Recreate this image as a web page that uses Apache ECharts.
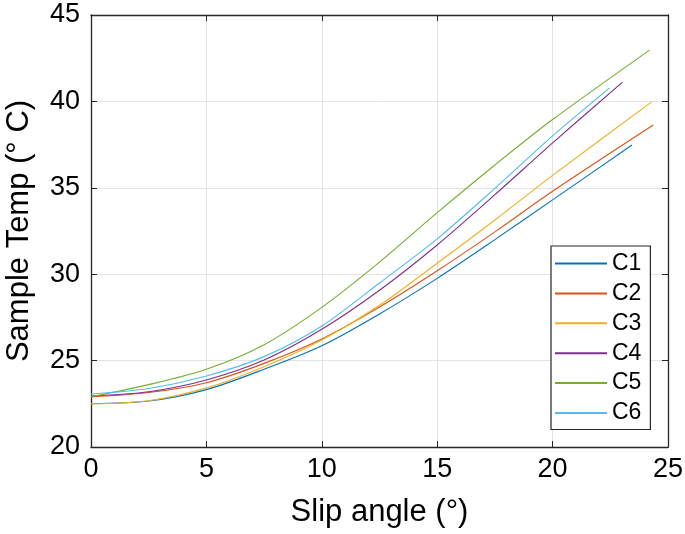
<!DOCTYPE html>
<html><head><meta charset="utf-8">
<script src="https://cdn.jsdelivr.net/npm/echarts@6/dist/echarts.min.js"></script>
<style>html,body{margin:0;padding:0;background:#fff}#c{width:685px;height:534px}</style>
</head><body><div id="c"></div>
<script>
const seriesNames = ['C1','C2','C3','C4','C5','C6'];
const colors = ['#0072BD','#D95319','#EDB120','#7E2F8E','#77AC30','#4DBEEE'];
const xTicks = [0,5,10,15,20,25];
const yTicks = [20,25,30,35,40,45];
const xBase = [0,2.5,5,7.5,10,12.5,15,17.5,20];
const xEnd = [23.44, 24.36, 24.29, 23.03, 24.2, 22.47];
const C1 = [22.5, 22.66, 23.32, 24.5, 25.86, 27.7, 29.76, 32.0, 34.3, 37.48];
const C2 = [22.9, 23.15, 23.72, 24.84, 26.25, 28.1, 30.2, 32.45, 34.8, 38.63];
const C3 = [22.5, 22.68, 23.42, 24.65, 26.19, 28.2, 30.63, 33.14, 35.72, 39.97];
const C4 = [22.95, 23.2, 23.88, 25.03, 26.81, 29.07, 31.69, 34.6, 37.6, 41.12];
const C5 = [22.91, 23.61, 24.5, 25.92, 28.08, 30.7, 33.56, 36.32, 38.95, 42.97];
const C6 = [23.07, 23.39, 24.11, 25.23, 27.0, 29.49, 32.04, 34.97, 38.0, 40.78];
const allY = [C1,C2,C3,C4,C5,C6];

const font = 'Liberation Sans, Arial, Helvetica, sans-serif';
const axColor = '#262626';
const chart = echarts.init(document.getElementById('c'));
const series = allY.map((ys,i)=>({
  name: seriesNames[i], type:'line', smooth:0.3, symbol:'none',
  xAxisIndex:0, yAxisIndex:0,
  lineStyle:{color:colors[i], width:1.1}, itemStyle:{color:colors[i]},
  data: ys.map((y,j)=>[j<xBase.length?xBase[j]:xEnd[i], y])
}));
const baseX = {type:'value', min:xTicks[0], max:xTicks[xTicks.length-1], interval:5};
const baseY = {type:'value', min:yTicks[0], max:yTicks[yTicks.length-1], interval:5};
chart.setOption({
  animation:false,
  backgroundColor:'#fff',
  grid:{left:91, right:17, top:15, bottom:87, containLabel:false, outerBoundsMode:'none'},
  xAxis:[
    Object.assign({}, baseX, {position:'bottom',
      name:'Slip angle (\u00b0)', nameLocation:'middle', nameGap:50,
      nameTextStyle:{fontFamily:font, fontSize:31, color:'#000'},
      axisLine:{show:true, onZero:false, lineStyle:{color:axColor, width:1.3}},
      axisTick:{show:true, inside:true, length:6, lineStyle:{color:axColor}},
      axisLabel:{fontFamily:font, fontSize:27, color:'#000', margin:9},
      splitLine:{show:true, lineStyle:{color:'#e3e3e3', width:1}}}),
    Object.assign({}, baseX, {position:'top',
      axisLine:{show:true, onZero:false, lineStyle:{color:axColor, width:1.3}},
      axisTick:{show:true, inside:true, length:6, lineStyle:{color:axColor}},
      axisLabel:{show:false}, splitLine:{show:false}})
  ],
  yAxis:[
    Object.assign({}, baseY, {position:'left',
      name:'Sample Temp (\u00b0 C)', nameLocation:'middle', nameGap:56, nameRotate:90,
      nameTextStyle:{fontFamily:font, fontSize:31, color:'#000'},
      axisLine:{show:true, onZero:false, lineStyle:{color:axColor, width:1.3}},
      axisTick:{show:true, inside:true, length:6, lineStyle:{color:axColor}},
      axisLabel:{fontFamily:font, fontSize:27, color:'#000', margin:11},
      splitLine:{show:true, lineStyle:{color:'#e3e3e3', width:1}}}),
    Object.assign({}, baseY, {position:'right',
      axisLine:{show:true, onZero:false, lineStyle:{color:axColor, width:1.3}},
      axisTick:{show:true, inside:true, length:6, lineStyle:{color:axColor}},
      axisLabel:{show:false}, splitLine:{show:false}})
  ],
  legend:{
    orient:'vertical', left:551, top:246,
    backgroundColor:'#fff', borderColor:axColor, borderWidth:1.2, borderRadius:0,
    padding:[6,9,5,4], itemWidth:52, itemHeight:2, itemGap:6.9, icon:'rect',
    textStyle:{fontFamily:font, fontSize:23, color:'#000', lineHeight:23},
    data: seriesNames
  },
  series: series
});
</script></body></html>
